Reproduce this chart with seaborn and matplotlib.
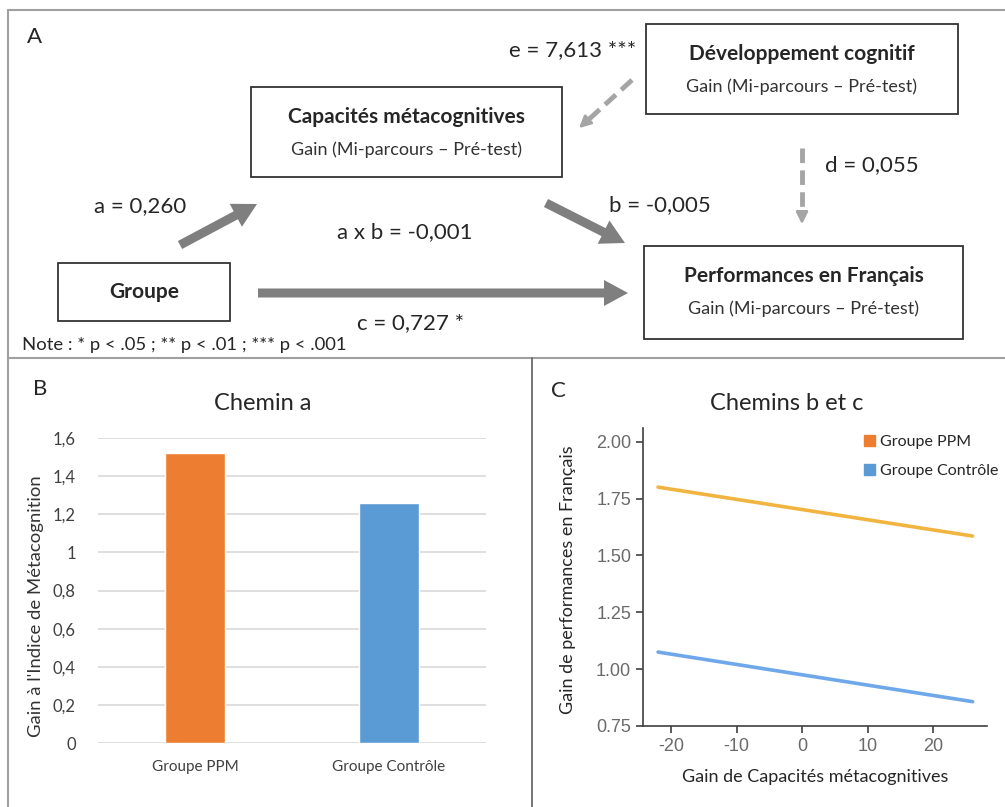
import matplotlib
matplotlib.use("Agg")
import matplotlib.pyplot as plt
from matplotlib.patches import Rectangle, FancyArrow, Patch
from matplotlib.ticker import FuncFormatter
import seaborn as sns
import pandas as pd

# Panel B data
groups = ["Groupe PPM", "Groupe Contrôle"]
gain_meta = [1.52, 1.26]

# Panel C data (simple slopes)
x_meta = [-22, 26]
ppm_perf = [1.80, 1.585]
ctrl_perf = [1.075, 0.857]

# Panel A coefficients
coef_a = "a = 0,260"
coef_b = "b = -0,005"
coef_c = "c = 0,727 *"
coef_d = "d = 0,055"
coef_e = "e = 7,613 ***"
coef_ab = "a x b = -0,001"

orange = "#ED7D31"
blue = "#5B9BD5"
line_orange = "#F2B440"
line_blue = "#6EA7EA"
arrow_grey = "#7F7F7F"
dash_grey = "#A5A5A5"

sns.set_style("white")
plt.rcParams["font.family"] = ["Lato", "DejaVu Sans"]
plt.rcParams["axes.unicode_minus"] = False

W, H = 1005, 807
fig = plt.figure(figsize=(W / 100, H / 100), dpi=100)

# full-figure overlay in pixel units for the path diagram and frame
ov = fig.add_axes([0, 0, 1, 1])
ov.set_xlim(0, W)
ov.set_ylim(H, 0)
ov.axis("off")

frame_kw = dict(color="#A0A0A0", lw=1.5)
ov.plot([8, W], [10, 10], **frame_kw)
ov.plot([8, 8], [10, H], **frame_kw)
ov.plot([8, W], [358, 358], **frame_kw)
ov.plot([532, 532], [358, H], color="#606060", lw=1.2)


def box(x0, y0, x1, y1, title, sub=None):
    ov.add_patch(Rectangle((x0, y0), x1 - x0, y1 - y0, fill=False, ec="#333333", lw=1.3))
    cx = (x0 + x1) / 2
    if sub is None:
        ov.text(cx, (y0 + y1) / 2, title, ha="center", va="center", fontsize=15, fontweight="bold")
    else:
        ov.text(cx, y0 + 30, title, ha="center", va="center", fontsize=15, fontweight="bold")
        ov.text(cx, y0 + 63, sub, ha="center", va="center", fontsize=13, color="#333333")


sub_txt = "Gain (Mi-parcours – Pré-test)"
box(251, 87, 562, 177, "Capacités métacognitives", sub_txt)
box(646, 24, 958, 114, "Développement cognitif", sub_txt)
box(644, 246, 963, 339, "Performances en Français", sub_txt)
box(58, 263, 230, 321, "Groupe")

# solid arrows
arr_kw = dict(width=9, head_width=26, head_length=24, length_includes_head=True,
              color=arrow_grey, lw=0)
ov.add_patch(FancyArrow(180, 245, 257 - 180, 204 - 245, **arr_kw))
ov.add_patch(FancyArrow(546, 203, 625 - 546, 243 - 203, **arr_kw))
ov.add_patch(FancyArrow(258, 293, 628 - 258, 0, **arr_kw))

# dashed arrows
ov.plot([632, 586], [80, 122], color=dash_grey, lw=3.5, dashes=(3, 1.5))
ov.annotate("", xy=(577, 130), xytext=(590, 118),
            arrowprops=dict(arrowstyle="-|>,head_length=0.7,head_width=0.35", color=dash_grey, lw=2))
ov.plot([802, 802], [148, 214], color=dash_grey, lw=3.5, dashes=(3, 1.5))
ov.annotate("", xy=(802, 227), xytext=(802, 210),
            arrowprops=dict(arrowstyle="-|>,head_length=0.7,head_width=0.35", color=dash_grey, lw=2))

lab_kw = dict(ha="center", va="center", fontsize=16)
ov.text(140, 206, coef_a, **lab_kw)
ov.text(405, 232, coef_ab, **lab_kw)
ov.text(411, 323, coef_c, **lab_kw)
ov.text(660, 205, coef_b, **lab_kw)
ov.text(872, 165, coef_d, **lab_kw)
ov.text(573, 50, coef_e, **lab_kw)
ov.text(22, 345, "Note : * p < .05 ; ** p < .01 ; *** p < .001", ha="left", va="center", fontsize=13.3)

ov.text(27, 37, "A", ha="left", va="center", fontsize=16)
ov.text(33, 389, "B", ha="left", va="center", fontsize=16)
ov.text(551, 391, "C", ha="left", va="center", fontsize=16)

ov.text(263, 403, "Chemin a", ha="center", va="center", fontsize=17)
ov.text(787, 403, "Chemins b et c", ha="center", va="center", fontsize=17)

# Panel B: bar chart
axB = fig.add_axes([98 / W, (H - 743) / H, 388 / W, (743 - 438) / H])
sns.barplot(x=groups, y=gain_meta, hue=groups, palette=[orange, blue], width=0.31,
            legend=False, ax=axB, saturation=1)
axB.set_ylim(0, 1.6)
axB.set_xlim(-0.5, 1.5)
axB.set_yticks([0, 0.2, 0.4, 0.6, 0.8, 1.0, 1.2, 1.4, 1.6])
axB.yaxis.set_major_formatter(FuncFormatter(lambda v, p: f"{v:g}".replace(".", ",")))
axB.yaxis.grid(True, color="#D9D9D9", lw=1.2)
axB.set_axisbelow(True)
for s in axB.spines.values():
    s.set_visible(False)
axB.tick_params(length=0, labelsize=12, colors="#404040", pad=14)
axB.tick_params(axis="y", pad=16)
axB.tick_params(axis="x", pad=12, labelsize=11)
axB.set_ylabel("Gain à l'Indice de Métacognition", fontsize=13.3, color="#333333")
axB.yaxis.set_label_coords(-0.14, 0.45)

# Panel C: simple slopes
df = pd.DataFrame({
    "x": x_meta + x_meta,
    "y": ppm_perf + ctrl_perf,
    "groupe": [groups[0]] * 2 + [groups[1]] * 2,
})
axC = fig.add_axes([643 / W, (H - 726) / H, (987 - 643) / W, (726 - 428) / H])
sns.lineplot(data=df, x="x", y="y", hue="groupe", palette=[line_orange, line_blue],
             lw=2.6, legend=False, ax=axC)
axC.set_xlim(-24.3, 28.2)
axC.set_ylim(0.75, 2.06)
axC.set_xticks([-20, -10, 0, 10, 20])
axC.set_yticks([0.75, 1.0, 1.25, 1.5, 1.75, 2.0])
axC.yaxis.set_major_formatter(FuncFormatter(lambda v, p: f"{v:.2f}"))
for s in ["top", "right"]:
    axC.spines[s].set_visible(False)
for s in ["left", "bottom"]:
    axC.spines[s].set_color("#404040")
    axC.spines[s].set_linewidth(1.2)
axC.tick_params(length=5, width=1.2, color="#404040", direction="out", left=True, bottom=True)
for lab in axC.get_xticklabels() + axC.get_yticklabels():
    lab.set_fontfamily(["Liberation Sans", "DejaVu Sans"])
    lab.set_fontsize(13)
    lab.set_color("#6A6A6A")
axC.set_xlabel("Gain de Capacités métacognitives", fontsize=13, labelpad=10)
axC.set_ylabel("Gain de performances en Français", fontsize=13)
axC.yaxis.set_label_coords(-0.195, 0.49)
handles = [Patch(color=orange), Patch(color=blue)]
axC.legend(handles, groups, loc="upper right", bbox_to_anchor=(1.075, 1.025), frameon=False,
           fontsize=11.5, handlelength=0.7, handleheight=0.7, handletextpad=0.3, labelspacing=0.95)

fig.savefig("out.png", dpi=100)
